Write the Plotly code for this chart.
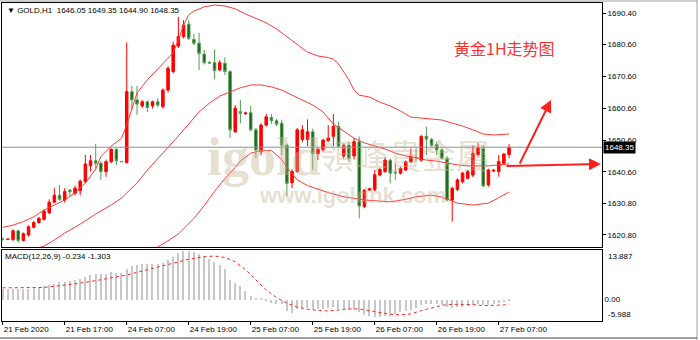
import plotly.graph_objects as go

# ---------------- data ----------------
bar_index = list(range(99))
opens = [1619.5,1619.4,1619.4,1622.1,1619.1,1620.8,1623.2,1624.7,1625.7,1627.8,
         1631.1,1633.3,1631.8,1634.9,1633.9,1634.7,1637.5,1642.5,1644.1,1643.3,
         1640.7,1643.8,1647.7,1643.9,1643.5,1665.8,1663.2,1661.3,1662.6,1661.3,
         1662.6,1661.1,1666.3,1672.1,1680.1,1683.1,1687.0,1682.2,1681.0,1677.6,
         1675.0,1674.9,1672.6,1674.7,1672.1,1653.2,1659.5,1658.9,1659.2,1653.8,
         1646.9,1655.3,1657.7,1656.7,1655.9,1649.0,1637.2,1640.7,1650.8,1650.8,
         1653.2,1646.4,1647.5,1650.4,1651.8,1654.9,1645.6,1649.0,1645.6,1650.1,
         1629.7,1634.9,1635.0,1639.6,1640.7,1644.3,1640.5,1640.2,1641.2,1643.8,
         1645.3,1644.3,1651.8,1650.8,1649.2,1647.5,1644.9,1631.8,1635.1,1637.5,
         1638.6,1639.6,1645.9,1648.0,1636.5,1640.9,1640.7,1643.3,1646.05]
highs = [1620.0,1619.6,1622.6,1622.4,1621.6,1623.8,1625.2,1626.5,1628.9,1632.0,
         1635.5,1636.5,1635.5,1635.2,1636.3,1638.2,1645.9,1645.9,1649.4,1644.0,
         1644.5,1648.0,1648.0,1644.0,1681.2,1667.6,1667.6,1663.2,1663.0,1663.0,
         1663.8,1666.8,1673.8,1681.5,1689.3,1688.3,1688.3,1683.9,1684.3,1678.9,
         1675.3,1679.1,1675.7,1676.6,1672.5,1661.6,1663.2,1659.5,1661.3,1654.4,
         1656.0,1658.8,1658.8,1657.2,1657.0,1649.5,1641.5,1654.4,1655.3,1657.1,
         1654.2,1648.2,1651.0,1655.3,1658.8,1656.4,1649.5,1650.1,1651.2,1651.7,
         1635.2,1635.6,1641.2,1641.8,1645.3,1644.8,1643.3,1642.2,1644.2,1648.0,
         1648.0,1652.3,1654.8,1651.3,1650.1,1648.2,1645.6,1636.0,1638.6,1640.6,
         1641.2,1649.0,1649.6,1649.0,1641.6,1641.5,1645.9,1646.5,1649.35]
lows = [1619.0,1619.3,1618.8,1618.4,1618.8,1620.3,1622.9,1624.4,1625.3,1627.3,
        1630.8,1631.5,1631.0,1633.0,1633.2,1633.3,1637.0,1640.7,1641.7,1638.1,
        1639.1,1643.3,1642.8,1643.7,1643.3,1660.0,1658.5,1660.6,1659.4,1660.5,
        1661.0,1660.5,1665.5,1671.5,1679.5,1682.5,1682.0,1680.4,1672.6,1674.3,
        1674.5,1669.7,1672.2,1671.0,1651.2,1652.8,1655.9,1658.5,1653.4,1645.0,
        1645.9,1654.8,1655.6,1655.0,1645.9,1633.0,1635.5,1640.3,1650.0,1648.7,
        1641.2,1644.3,1647.0,1650.0,1648.7,1648.3,1644.8,1643.8,1644.5,1626.0,
        1629.2,1634.6,1634.5,1639.2,1640.3,1637.0,1638.1,1639.8,1640.8,1643.4,
        1643.8,1643.8,1645.9,1648.5,1645.9,1644.5,1631.3,1625.0,1634.6,1637.0,
        1638.2,1639.0,1645.5,1635.8,1636.0,1640.6,1639.1,1642.8,1644.90]
closes = [1619.4,1619.5,1622.1,1619.1,1621.2,1623.4,1624.7,1626.0,1628.3,1631.1,
          1633.3,1632.0,1634.4,1634.4,1635.5,1637.7,1643.1,1644.1,1643.3,1640.7,
          1643.8,1647.7,1644.1,1643.8,1665.8,1663.2,1661.9,1662.6,1660.8,1662.6,
          1661.6,1666.3,1673.1,1680.4,1683.1,1686.7,1682.5,1681.0,1677.8,1674.9,
          1674.8,1672.4,1674.9,1672.1,1653.8,1660.6,1659.0,1659.1,1653.8,1647.5,
          1655.3,1657.9,1656.7,1655.6,1649.0,1637.0,1640.7,1653.8,1653.8,1653.2,
          1646.4,1647.7,1650.6,1651.2,1654.9,1648.7,1649.0,1644.9,1650.1,1629.9,
          1634.9,1635.3,1639.7,1641.4,1644.3,1640.2,1640.3,1641.7,1643.8,1645.4,
          1645.1,1651.7,1650.9,1649.0,1647.5,1644.9,1631.8,1635.4,1638.1,1640.2,
          1640.7,1646.4,1648.0,1636.2,1641.2,1641.1,1643.8,1646.2,1648.35]

bb_upper_x = [0,2,4,6,8,10,12,14,16,18,19,21,23,24,26,28,30,32,33,34,35,36,37,39,41,43,45,47,49,
              51,53,55,57,59,61,63,64,65,67,68,69,71,73,75,77,79,81,83,85,87,89,91,93,95,97,98]
bb_upper = [1623.2,1623.9,1625.0,1626.5,1628.6,1630.2,1631.8,1634.0,1637.1,1641.5,1645.4,1648.7,
            1651.2,1655.3,1665.4,1669.5,1672.9,1676.0,1678.0,1682.0,1686.7,1689.9,1691.1,1692.4,
            1693.0,1692.7,1691.8,1690.2,1688.9,1687.4,1685.5,1683.0,1680.4,1678.2,1677.0,1676.5,
            1676.0,1674.5,1669.5,1666.3,1664.7,1664.1,1662.5,1661.3,1659.7,1657.8,1657.5,1657.2,
            1656.9,1655.9,1655.0,1653.8,1652.5,1652.2,1652.5,1652.5]
bb_mid_x = [0,4,8,10,12,15,18,21,23,24,26,28,30,32,34,36,38,40,42,44,46,48,50,52,54,56,58,60,
            62,64,66,68,70,72,74,76,78,80,82,84,86,88,90,92,94,96,98]
bb_mid = [1613.5,1615.5,1617.3,1619.2,1621.4,1624.2,1627.4,1630.2,1632.4,1634.0,1637.1,1641.2,
          1644.7,1648.1,1651.9,1655.6,1659.4,1662.2,1664.4,1665.7,1667.0,1667.9,1667.9,1667.3,
          1666.3,1664.7,1663.2,1661.6,1659.4,1655.6,1653.4,1651.2,1649.7,1648.7,1647.8,1646.5,
          1645.6,1645.0,1644.3,1644.0,1643.4,1642.8,1642.5,1642.5,1642.5,1642.8,1643.1]
bb_lower_x = [28,30,32,34,37,39,41,43,45,46,48,50,52,54,55,57,59,61,63,66,70,75,78,80,83,85,
              88,91,94,96,98]
bb_lower = [1614.5,1617.0,1619.0,1621.1,1626.0,1630.0,1634.5,1638.5,1642.0,1644.0,1646.5,1647.3,
            1647.3,1644.5,1642.0,1638.1,1636.3,1635.2,1634.1,1632.8,1631.8,1631.2,1632.0,1632.8,
            1633.3,1632.7,1630.8,1630.2,1630.8,1632.5,1634.3]

macd_hist = [3.1,3.1,3.0,3.0,3.0,3.1,3.3,3.6,3.9,4.2,
             4.5,4.8,5.0,5.2,5.4,5.8,6.4,6.8,7.2,7.2,
             7.3,7.6,7.5,7.4,8.6,9.4,9.8,10.0,10.1,10.0,
             10.0,10.3,11.0,12.0,13.0,13.6,13.6,13.3,12.8,12.2,
             11.3,10.5,9.8,8.6,5.5,4.6,3.7,2.5,1.0,0.3,
             0.2,-0.3,-0.9,-1.1,-1.2,-3.3,-3.7,-2.6,-2.4,-2.3,
             -2.6,-2.6,-2.5,-2.3,-2.2,-2.5,-2.6,-2.8,-2.8,-3.5,
             -4.2,-4.6,-4.8,-4.8,-4.7,-4.5,-4.0,-3.6,-3.3,-2.8,
             -2.3,-1.6,-1.3,-1.2,-1.3,-1.5,-2.2,-2.3,-2.2,-2.0,
             -1.8,-1.4,-1.1,-1.5,-1.4,-1.2,-0.9,-0.6,-0.234]
macd_signal_x = [0,4,8,11,14,18,21,24,27,30,33,36,39,41,43,45,47,49,51,53,55,57,59,61,63,65,67,
                 69,71,73,75,77,79,81,83,85,87,89,91,93,95,97,98]
macd_signal = [3.3,3.3,3.4,3.9,4.4,5.3,6.0,6.9,8.0,9.0,10.2,11.3,12.0,12.2,11.8,10.6,8.4,5.5,2.7,
               0.6,-1.0,-2.1,-2.7,-3.0,-3.2,-2.9,-2.6,-2.6,-3.1,-3.7,-4.1,-4.3,-4.0,-3.1,-2.3,
               -1.6,-1.3,-1.3,-1.4,-1.7,-1.7,-1.5,-1.303]
macd_max, macd_min = 13.887, -5.988

price_ticks = [1690.4, 1680.6, 1670.6, 1660.6, 1650.6, 1640.6, 1630.8, 1620.8]
time_tick_bars = [0, 12, 24, 36, 48, 60, 72, 84, 96]
time_tick_labels = ["21 Feb 2020", "21 Feb 17:00", "24 Feb 07:00", "24 Feb 19:00", "25 Feb 07:00",
                    "25 Feb 19:00", "26 Feb 07:00", "26 Feb 19:00", "27 Feb 07:00"]
symbol = "GOLD,H1"
title_text = "黄金1H走势图"

# ---------------- layout helpers (pixels) ----------------
W, H = 700, 340
def px_x(p): return p / W
def px_y(p): return 1 - p / H

X_LEFT, X_RIGHT = 2, 602
MAIN_TOP, MAIN_BOT = 3, 247
MACD_TOP, MACD_BOT = 250, 321
BAR_PX = 5.167
FIRST_BAR_PX = 2.7
x_range = [-(FIRST_BAR_PX - X_LEFT) / BAR_PX, (X_RIGHT - FIRST_BAR_PX) / BAR_PX]
PX_PER_USD = 3.185
y_top = 1690.4 + (13.3 - MAIN_TOP) / PX_PER_USD
y_bot = 1690.4 - (MAIN_BOT - 13.3) / PX_PER_USD

FONT = "Liberation Sans, Arial, DejaVu Sans, sans-serif"
RED = "#ff2020"

fig = go.Figure()

fig.add_trace(go.Candlestick(
    x=bar_index, open=opens, high=highs, low=lows, close=closes,
    increasing=dict(line=dict(color="#ff0000", width=1), fillcolor="#ff0000"),
    decreasing=dict(line=dict(color="#4f9f4f", width=1), fillcolor="#1a5c1a"),
    whiskerwidth=0, xaxis="x", yaxis="y", hoverinfo="skip"))

for xs, ys in [(bb_upper_x, bb_upper), (bb_mid_x, bb_mid), (bb_lower_x, bb_lower)]:
    fig.add_trace(go.Scatter(x=xs, y=ys, mode="lines", line=dict(color="#ff3a3a", width=1),
                             xaxis="x", yaxis="y", hoverinfo="skip"))

fig.add_trace(go.Bar(x=bar_index, y=macd_hist, width=0.22, marker=dict(color="#c8c8c8", line=dict(width=0)),
                     xaxis="x2", yaxis="y2", hoverinfo="skip"))
fig.add_trace(go.Scatter(x=macd_signal_x, y=macd_signal, mode="lines",
                         line=dict(color="#ff2020", width=1, dash="dot"),
                         xaxis="x2", yaxis="y2", hoverinfo="skip"))

axis_common = dict(showgrid=False, zeroline=False, showline=True, mirror=True,
                   linecolor="#000000", linewidth=1)

fig.update_layout(
    width=W, height=H, margin=dict(l=0, r=0, t=0, b=0),
    paper_bgcolor="white", plot_bgcolor="white", showlegend=False,
    bargap=0,
    xaxis=dict(domain=[px_x(X_LEFT), px_x(X_RIGHT)], range=x_range, showticklabels=False,
               rangeslider=dict(visible=False), anchor="y", **axis_common),
    yaxis=dict(domain=[px_y(MAIN_BOT), px_y(MAIN_TOP)], range=[y_bot, y_top], side="right",
               anchor="x", tickvals=price_ticks, ticktext=[f"{v:.2f}" for v in price_ticks],
               ticks="outside", ticklen=3, tickcolor="#000000",
               tickfont=dict(family=FONT, size=8, color="#000000"), **axis_common),
    xaxis2=dict(domain=[px_x(X_LEFT), px_x(X_RIGHT)], range=x_range, anchor="y2",
                tickvals=time_tick_bars, ticktext=time_tick_labels, ticks="outside", ticklen=3,
                tickcolor="#000000", ticklabelposition="outside right",
                tickfont=dict(family=FONT, size=8, color="#000000"), **axis_common),
    yaxis2=dict(domain=[px_y(MACD_BOT), px_y(MACD_TOP)], range=[macd_min, macd_max], side="right",
                anchor="x2", tickvals=[0], ticktext=["0.00"], ticks="",
                tickfont=dict(family=FONT, size=8, color="#000000"), **axis_common),
)

last_close = closes[-1]
fig.add_shape(type="line", xref="x domain", yref="y", x0=0, x1=1, y0=last_close, y1=last_close,
              line=dict(color="#8494a6", width=1))

ann = []
# watermark
wm = "rgba(196,180,146,0.42)"
ann.append(dict(text="<b>igold</b>", x=px_x(264), y=px_y(157), xref="paper", yref="paper", showarrow=False,
                font=dict(family="Liberation Serif, DejaVu Serif, serif", size=54, color=wm)))
ann.append(dict(text="領峰貴金屬", x=px_x(405), y=px_y(155), xref="paper", yref="paper", showarrow=False,
                font=dict(family="Noto Sans CJK TC, serif", size=34, color=wm)))
ann.append(dict(text="<b>www.igoldhk.com</b>", x=px_x(352), y=px_y(196), xref="paper", yref="paper",
                showarrow=False, font=dict(family=FONT, size=22, color=wm)))
# header
hdr = f"\u25BC {symbol}\u00a0\u00a0{opens[-1]:.2f} {highs[-1]:.2f} {lows[-1]:.2f} {closes[-1]:.2f}"
ann.append(dict(text=hdr, x=px_x(5), y=px_y(11), xref="paper", yref="paper", showarrow=False,
                xanchor="left", yanchor="middle", font=dict(family=FONT, size=8, color="#000000")))
ann.append(dict(text=f"MACD(12,26,9) {macd_hist[-1]:.3f} {macd_signal[-1]:.3f}", x=px_x(3), y=px_y(256),
                xref="paper", yref="paper", showarrow=False, xanchor="left", yanchor="middle",
                font=dict(family=FONT, size=8, color="#000000")))
# title
ann.append(dict(text=title_text, x=px_x(452), y=px_y(48), xref="paper", yref="paper", showarrow=False,
                xanchor="left", yanchor="middle",
                font=dict(family="Noto Sans CJK SC", size=16, color="#ff3030")))
# current price box
ann.append(dict(text=f"{last_close:.2f}", x=px_x(603), y=last_close, xref="paper", yref="y",
                showarrow=False, xanchor="left", yanchor="middle", bgcolor="#000000",
                borderpad=1, font=dict(family=FONT, size=8, color="#ffffff")))
# MACD scale extremes
ann.append(dict(text=f"{macd_max:.3f}", x=px_x(606), y=macd_max, xref="paper", yref="y2", showarrow=False,
                xanchor="left", yanchor="top", font=dict(family=FONT, size=8, color="#000000")))
ann.append(dict(text=f"{macd_min:.3f}", x=px_x(606), y=macd_min, xref="paper", yref="y2", showarrow=False,
                xanchor="left", yanchor="bottom", font=dict(family=FONT, size=8, color="#000000")))
# arrows
ann.append(dict(x=px_x(601), y=px_y(164), xref="paper", yref="paper", ax=-96, ay=2, showarrow=True,
                arrowhead=2, arrowsize=1.2, arrowwidth=2, arrowcolor=RED, text=""))
ann.append(dict(x=px_x(551), y=px_y(100), xref="paper", yref="paper", ax=-32, ay=65, showarrow=True,
                arrowhead=2, arrowsize=1.2, arrowwidth=2, arrowcolor=RED, text=""))
fig.update_layout(annotations=ann)

# window frame lines
fig.add_shape(type="line", xref="paper", yref="paper", x0=px_x(697), x1=px_x(697), y0=0, y1=1,
              line=dict(color="#a0a0a0", width=1))
fig.add_shape(type="line", xref="paper", yref="paper", x0=0, x1=px_x(697), y0=px_y(338), y1=px_y(338),
              line=dict(color="#404040", width=1))
fig.add_shape(type="line", xref="paper", yref="paper", x0=0, x1=px_x(697), y0=px_y(1), y1=px_y(1),
              line=dict(color="#a0a0a0", width=1))

fig.write_html("out.html")
